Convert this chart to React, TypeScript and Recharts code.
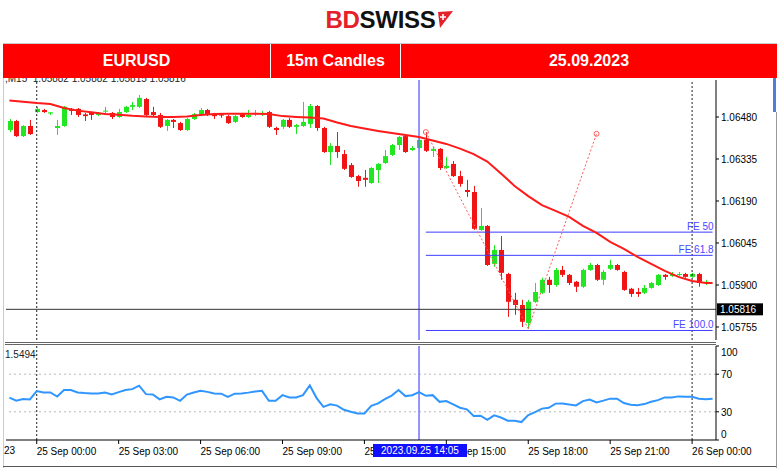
import React from 'react';
import { ComposedChart, Bar, Line, XAxis, YAxis, ReferenceLine, ReferenceDot } from 'recharts';

const FONT = '"Liberation Sans", Arial, sans-serif';
const BULL = '#22e622';
const BEAR = '#f01414';

// EURUSD M15, one bar per slot from 24 Sep 23:00 (slot 103 is the empty right edge)
const opens = [
  1.06435, 1.06466, 1.06414, 1.06449, 1.06497, 1.06504, 1.06492, 1.06442, 1.06449, 1.06508,
  1.06508, 1.06489, 1.06494, 1.06487, 1.06499, 1.06494, 1.0648, 1.06497, 1.06515, 1.06515,
  1.06542, 1.06497, 1.06487, 1.06449, 1.0647, 1.06459, 1.06435, 1.06473, 1.06487, 1.06504,
  1.0649, 1.0649, 1.06483, 1.06463, 1.0649, 1.0648, 1.06489, 1.06489, 1.06497, 1.06442,
  1.06446, 1.0647, 1.06446, 1.06449, 1.06456, 1.06518, 1.06442, 1.06359, 1.0638, 1.06352,
  1.06314, 1.06276, 1.0627, 1.06252, 1.06297, 1.06321, 1.06349, 1.06383, 1.06414, 1.06366,
  1.06373, 1.06401, 1.06363, 1.0637, 1.06304, 1.06318, 1.06276, 1.06228, 1.06221, 1.0609,
  1.06104, 1.05973, 1.06021, 1.05938, 1.05849, 1.05831, 1.05769, 1.05842, 1.05873, 1.05918,
  1.059, 1.05952, 1.05935, 1.05911, 1.05894, 1.05952, 1.05969, 1.05918, 1.05956, 1.05969,
  1.05945, 1.05887, 1.05876, 1.05873, 1.0589, 1.059, 1.05935, 1.05931, 1.05935, 1.05938,
  1.05928, 1.05938, 1.05907,
];
const highs = [
  1.06473, 1.0647, 1.06452, 1.0647, 1.06515, 1.06508, 1.06497, 1.0647, 1.06518, 1.06511,
  1.06511, 1.06494, 1.06497, 1.06497, 1.06515, 1.06497, 1.06508, 1.06518, 1.06532, 1.06556,
  1.06546, 1.06515, 1.06494, 1.06473, 1.06473, 1.06463, 1.06477, 1.06494, 1.06511, 1.06508,
  1.06494, 1.06494, 1.06487, 1.06487, 1.06494, 1.06504, 1.06504, 1.06501, 1.06501, 1.06446,
  1.06473, 1.06477, 1.06456, 1.06532, 1.06525, 1.06521, 1.06446, 1.0639, 1.06428, 1.06366,
  1.06321, 1.0628, 1.06297, 1.06307, 1.06321, 1.06366, 1.06387, 1.06414, 1.06421, 1.0638,
  1.06404, 1.06428, 1.06377, 1.06373, 1.06342, 1.06328, 1.06294, 1.06263, 1.06242, 1.06166,
  1.06107, 1.06038, 1.06069, 1.05942, 1.05873, 1.05849, 1.05849, 1.05907, 1.05925, 1.05928,
  1.05959, 1.05966, 1.05938, 1.05914, 1.05956, 1.05976, 1.05973, 1.05952, 1.05987, 1.05973,
  1.05949, 1.0589, 1.0589, 1.059, 1.05911, 1.05938, 1.05938, 1.05945, 1.05945, 1.05942,
  1.05942, 1.05942, 1.05918,
];
const lows = [
  1.06428, 1.06411, 1.06411, 1.06418, 1.06494, 1.06494, 1.06487, 1.06418, 1.06446, 1.06487,
  1.0648, 1.06466, 1.0647, 1.06483, 1.06487, 1.06473, 1.06477, 1.06494, 1.06504, 1.06511,
  1.06483, 1.06483, 1.06442, 1.06432, 1.06442, 1.06432, 1.06432, 1.0647, 1.06483, 1.06483,
  1.06473, 1.06477, 1.06456, 1.06459, 1.06477, 1.06477, 1.06483, 1.06483, 1.06442, 1.06418,
  1.06439, 1.06442, 1.06421, 1.06446, 1.06442, 1.06432, 1.06356, 1.06314, 1.06339, 1.06297,
  1.0627, 1.06239, 1.06239, 1.06249, 1.06252, 1.06318, 1.06345, 1.06366, 1.06356, 1.06363,
  1.0637, 1.06359, 1.06342, 1.06297, 1.06301, 1.06273, 1.06239, 1.06204, 1.0609, 1.06087,
  1.05966, 1.05963, 1.05918, 1.0579, 1.05797, 1.05755, 1.05749, 1.05838, 1.05869, 1.05873,
  1.05894, 1.05928, 1.059, 1.05876, 1.0589, 1.05949, 1.05914, 1.059, 1.05952, 1.05949,
  1.0588, 1.05859, 1.05859, 1.05869, 1.05887, 1.05897, 1.05918, 1.05928, 1.05931, 1.05925,
  1.05925, 1.05894, 1.059,
];
const closes = [
  1.06466, 1.06414, 1.06449, 1.06421, 1.06508, 1.06497, 1.06496, 1.06449, 1.06515, 1.06501,
  1.06487, 1.06483, 1.06487, 1.06494, 1.06502, 1.0648, 1.06497, 1.06515, 1.06521, 1.06546,
  1.06487, 1.06487, 1.06446, 1.0647, 1.06463, 1.06435, 1.06473, 1.0649, 1.06504, 1.06487,
  1.06483, 1.06485, 1.06459, 1.06483, 1.0648, 1.06487, 1.06494, 1.06494, 1.06446, 1.06435,
  1.0647, 1.06446, 1.06452, 1.06463, 1.06518, 1.06442, 1.06359, 1.0638, 1.06359, 1.06301,
  1.06273, 1.06259, 1.06263, 1.06304, 1.06318, 1.06345, 1.06383, 1.06411, 1.06359, 1.06373,
  1.06401, 1.06363, 1.0637, 1.06304, 1.06311, 1.06276, 1.06249, 1.06221, 1.06094, 1.06104,
  1.05969, 1.06021, 1.05942, 1.05842, 1.05831, 1.05773, 1.05842, 1.05876, 1.05918, 1.059,
  1.05952, 1.05935, 1.05907, 1.05894, 1.05952, 1.05969, 1.05918, 1.05945, 1.05969, 1.05952,
  1.05883, 1.05869, 1.05869, 1.0589, 1.05907, 1.05935, 1.05928, 1.05938, 1.05938, 1.05928,
  1.05938, 1.05907, 1.05911,
];
// moving average, read every second bar
const maValues = [
  1.06537, null, 1.06533, null, 1.06528, null, 1.06525, null, 1.06511, null,
  1.06502, null, 1.06496, null, 1.0649, null, 1.06488, null, 1.06484, null,
  1.06482, null, 1.0648, null, 1.0648, null, 1.06482, null, 1.06487, null,
  1.0649, null, 1.06491, null, 1.06491, null, 1.06491, null, 1.0649, null,
  1.06483, null, 1.0648, null, 1.06478, null, 1.06475, null, 1.06461, null,
  1.06449, null, 1.0644, null, 1.06432, null, 1.06425, null, 1.06418, null,
  1.06411, null, 1.06399, null, 1.06387, null, 1.06371, null, 1.06352, null,
  1.06326, null, 1.06285, null, 1.06242, null, 1.06207, null, 1.06176, null,
  1.06156, null, 1.06135, null, 1.06104, null, 1.0608, null, 1.06049, null,
  1.06025, null, 1.05997, null, 1.05973, null, 1.05949, null, 1.05928, null,
  1.05914, null, 1.05907, 1.05907,
];
const rsiValues = [
  45.1, 41.9, 43.7, 43.2, 52.0, 50.6, 50.6, 46.2, 53.1, 53.1,
  50.6, 49.9, 49.5, 49.5, 50.6, 48.5, 50.9, 53.1, 54.1, 57.8,
  48.8, 48.5, 43.2, 45.9, 45.3, 41.7, 48.3, 50.6, 52.3, 51.2,
  49.5, 49.3, 45.9, 49.3, 49.5, 50.4, 51.5, 52.3, 41.7, 41.7,
  47.7, 45.3, 45.3, 47.7, 58.0, 44.6, 35.3, 37.9, 36.6, 32.1,
  30.0, 28.3, 28.3, 36.4, 38.9, 43.5, 47.2, 53.1, 46.7, 47.7,
  50.9, 47.0, 47.7, 40.6, 41.4, 37.9, 34.3, 32.6, 25.5, 25.8,
  21.4, 26.2, 23.9, 20.5, 20.5, 19.1, 26.5, 29.7, 33.4, 34.3,
  38.7, 38.9, 37.7, 36.8, 41.4, 43.0, 40.0, 41.9, 44.0, 44.0,
  39.3, 37.5, 37.1, 38.2, 40.6, 42.4, 45.3, 45.3, 46.4, 45.9,
  45.9, 44.0, 43.3, 44.0,
];

const priceTicks = [1.0648, 1.06335, 1.0619, 1.06045, 1.059, 1.05755];
const rsiTicks = [0, 30, 70, 100];
const timeTickIndex = [4, 16, 28, 40, 52, 64, 76, 88, 100];
const timeTickLabels = [
  '25 Sep 00:00', '25 Sep 03:00', '25 Sep 06:00', '25 Sep 09:00', '25 Sep 12:00',
  '25 Sep 15:00', '25 Sep 18:00', '25 Sep 21:00', '26 Sep 00:00',
];

const lastPrice = 1.05816;
const cursorIndex = 60;
const dayMarks = [4, 100];
const fibA = { i: 61, price: 1.06428 };
const fibB = { i: 76, price: 1.05749 };
const fibC = { i: 86, price: 1.06422 };
const feRatios = [0.5, 0.618, 1.0];
const feLabels = ['FE 50', 'FE 61.8', 'FE 100.0'];
const feEnd = 103;

const PRICE_DOMAIN = [1.057101, 1.066077];

const data = rsiValues.map((rsi, i) => ({
  i,
  o: opens[i],
  h: highs[i],
  l: lows[i],
  c: closes[i],
  range: i < opens.length ? [lows[i], highs[i]] : null,
  ma: maValues[i],
  rsi,
}));

function Candle(props: any) {
  const { x, y, width, height, payload } = props;
  if (!payload || payload.o == null || !isFinite(y)) return null;
  const { o, h, l, c } = payload;
  const top = Math.min(y, y + height);
  const span = Math.abs(height);
  const k = h - l > 0 ? span / (h - l) : 0;
  const yo = top + (h - o) * k;
  const yc = top + (h - c) * k;
  const cx = Math.round(x + width / 2) + 0.5;
  const color = c >= o ? BULL : BEAR;
  return (
    <g>
      <line x1={cx} x2={cx} y1={top} y2={top + span} stroke={color} strokeWidth={1} />
      <rect x={cx - 2.5} y={Math.min(yo, yc)} width={5} height={Math.max(1, Math.abs(yc - yo))} fill={color} />
    </g>
  );
}

const feLabel = (text: string) => (props: any) => {
  const vb = props.viewBox;
  return (
    <text x={vb.x + vb.width + 1} y={vb.y - 2} textAnchor="end" fill="#4848ff" fontSize={10} fontFamily={FONT}>
      {text}
    </text>
  );
};

function PriceTag(props: any) {
  const vb = props.viewBox;
  const x = vb.x + vb.width;
  return (
    <g>
      <rect x={x + 1} y={vb.y - 6} width={46} height={12} fill="#000" />
      <text x={x + 4} y={vb.y + 4} fill="#fff" fontSize={10} fontFamily={FONT}>
        {lastPrice.toFixed(5)}
      </text>
    </g>
  );
}

function TimeTick(props: any) {
  const { x, y, payload } = props;
  const k = timeTickIndex.indexOf(payload.value);
  return (
    <text x={x} y={y + 9} textAnchor="start" fill="#000" fontSize={10} fontFamily={FONT}>
      {timeTickLabels[k]}
    </text>
  );
}

function RsiTick(props: any) {
  const { x, y, payload } = props;
  const shift = payload.value === 100 ? 6 : payload.value === 0 ? -6 : 0;
  return (
    <text x={x} y={y + 4 + shift} textAnchor="start" fill="#000" fontSize={10} fontFamily={FONT}>
      {payload.value}
    </text>
  );
}

const feLevels = feRatios.map((r) => fibC.price - r * (fibA.price - fibB.price));

function Logo() {
  return (
    <div style={{ position: 'absolute', left: 0, top: 7, width: 780, textAlign: 'center' }}>
      <span style={{ fontFamily: FONT, fontWeight: 700, fontSize: 24, letterSpacing: -0.3, lineHeight: '26px' }}>
        <span style={{ color: '#e4202a' }}>BD</span>
        <span style={{ color: '#111' }}>SWISS</span>
      </span>
      <svg width={18} height={20} style={{ verticalAlign: 'top', marginTop: 3, marginLeft: 1 }}>
        <polygon points="2,2 17,1 4,18" fill="#e4202a" />
        <path d="M7 4 v6 M4 7 h6" stroke="#fff" strokeWidth={1.6} />
      </svg>
    </div>
  );
}

const headerCells = [
  { text: 'EURUSD', left: 3, width: 267 },
  { text: '15m Candles', left: 271, width: 129 },
  { text: '25.09.2023', left: 401, width: 376 },
];

export default function App() {
  return (
    <div style={{ position: 'absolute', left: 0, top: 0, width: 780, height: 470, background: '#fff', overflow: 'hidden', fontFamily: FONT }}>
      <Logo />

      {/* main price pane */}
      <div style={{ position: 'absolute', left: 0, top: 78 }}>
        <ComposedChart width={780} height={264} data={data} margin={{ top: 2, right: 0, bottom: 2, left: 6 }} barCategoryGap={0}>
          <XAxis dataKey="i" hide />
          <YAxis
            orientation="right"
            domain={PRICE_DOMAIN}
            allowDataOverflow
            ticks={priceTicks}
            interval={0}
            width={64}
            tickSize={3}
            tickMargin={2}
            axisLine={{ stroke: '#000' }}
            tickLine={{ stroke: '#000' }}
            tick={{ fill: '#000', fontSize: 10, fontFamily: FONT }}
            tickFormatter={(v: number) => v.toFixed(5)}
          />
          {dayMarks.map((d) => (
            <ReferenceLine key={d} x={d} stroke="#222" strokeDasharray="2 2" />
          ))}
          <ReferenceLine x={cursorIndex} stroke="#7070ff" strokeWidth={1.5} />
          <ReferenceLine y={lastPrice} stroke="#333" label={PriceTag} />
          {feLevels.map((lv, k) => (
            <ReferenceLine
              key={feLabels[k]}
              segment={[{ x: fibA.i, y: lv }, { x: feEnd, y: lv }]}
              stroke="#3c3cff"
              label={feLabel(feLabels[k])}
            />
          ))}
          <ReferenceLine segment={[{ x: fibA.i, y: fibA.price }, { x: fibB.i, y: fibB.price }]} stroke="#ff5a5a" strokeDasharray="2 2" />
          <ReferenceLine segment={[{ x: fibB.i, y: fibB.price }, { x: fibC.i, y: fibC.price }]} stroke="#ff5a5a" strokeDasharray="2 2" />
          <ReferenceDot x={fibA.i} y={fibA.price} r={2.5} fill="none" stroke="#ff5a5a" />
          <ReferenceDot x={fibC.i} y={fibC.price} r={2.5} fill="none" stroke="#ff5a5a" />
          <Bar dataKey="range" shape={Candle} isAnimationActive={false} />
          <Line dataKey="ma" type="linear" stroke="#ff1a1a" strokeWidth={2} dot={false} connectNulls isAnimationActive={false} />
        </ComposedChart>
      </div>

      {/* RSI pane */}
      <div style={{ position: 'absolute', left: 0, top: 344 }}>
        <ComposedChart width={780} height={126} data={data} margin={{ top: 2, right: 0, bottom: 0, left: 6 }}>
          <XAxis
            dataKey="i"
            scale="band"
            ticks={timeTickIndex}
            interval={0}
            height={30}
            tickSize={4}
            tickMargin={2}
            axisLine={{ stroke: '#000' }}
            tickLine={{ stroke: '#000' }}
            tick={TimeTick}
          />
          <YAxis
            orientation="right"
            domain={[0, 100]}
            ticks={rsiTicks}
            interval={0}
            width={64}
            tickSize={3}
            tickMargin={2}
            axisLine={{ stroke: '#000' }}
            tickLine={{ stroke: '#000' }}
            tick={RsiTick}
          />
          <ReferenceLine y={70} stroke="#b8b8b8" strokeDasharray="2 3" />
          <ReferenceLine y={30} stroke="#b8b8b8" strokeDasharray="2 3" />
          {dayMarks.map((d) => (
            <ReferenceLine key={d} x={d} stroke="#222" strokeDasharray="2 2" />
          ))}
          <ReferenceLine x={cursorIndex} stroke="#7070ff" strokeWidth={1.5} />
          <Line dataKey="rsi" type="linear" stroke="#2f95ff" strokeWidth={2} dot={false} isAnimationActive={false} />
        </ComposedChart>
      </div>

      {/* pane labels */}
      <div style={{ position: 'absolute', left: 5, top: 72, fontSize: 10, lineHeight: '13px', color: '#222', whiteSpace: 'pre' }}>
        {',M15  1.05882 1.05882 1.05815 1.05816'}
      </div>
      <div style={{ position: 'absolute', left: 5, top: 348, fontSize: 10, lineHeight: '13px', color: '#222' }}>1.5494</div>
      <div style={{ position: 'absolute', left: 4, top: 444, fontSize: 10, lineHeight: '13px', color: '#000' }}>23</div>
      <div
        style={{
          position: 'absolute', left: 373, top: 444, width: 94, height: 13, background: '#1010ff',
          color: '#fff', fontSize: 10, lineHeight: '13px', textAlign: 'center',
        }}
      >
        2023.09.25 14:05
      </div>

      {/* pane separator and frame */}
      <div style={{ position: 'absolute', left: 5, top: 342, width: 711, height: 1, background: '#666' }} />
      <div style={{ position: 'absolute', left: 5, top: 344, width: 711, height: 1, background: '#666' }} />
      <div style={{ position: 'absolute', left: 3, top: 78, width: 1, height: 390, background: '#ccc' }} />
      <div style={{ position: 'absolute', left: 3, top: 466, width: 774, height: 1, background: '#555' }} />
      <div style={{ position: 'absolute', left: 776, top: 112, width: 1, height: 356, background: '#999' }} />
      <div style={{ position: 'absolute', left: 773, top: 78, width: 3, height: 34, background: '#4f7fd6' }} />

      {/* header band */}
      <div style={{ position: 'absolute', left: 3, top: 43, width: 774, height: 1, background: '#ccc', zIndex: 2 }} />
      {headerCells.map((cell) => (
        <div
          key={cell.text}
          style={{
            position: 'absolute', left: cell.left, top: 44, width: cell.width, height: 34, background: '#ff0000',
            color: '#fff', fontWeight: 700, fontSize: 16, lineHeight: '34px', textAlign: 'center', zIndex: 2,
          }}
        >
          {cell.text}
        </div>
      ))}
    </div>
  );
}
